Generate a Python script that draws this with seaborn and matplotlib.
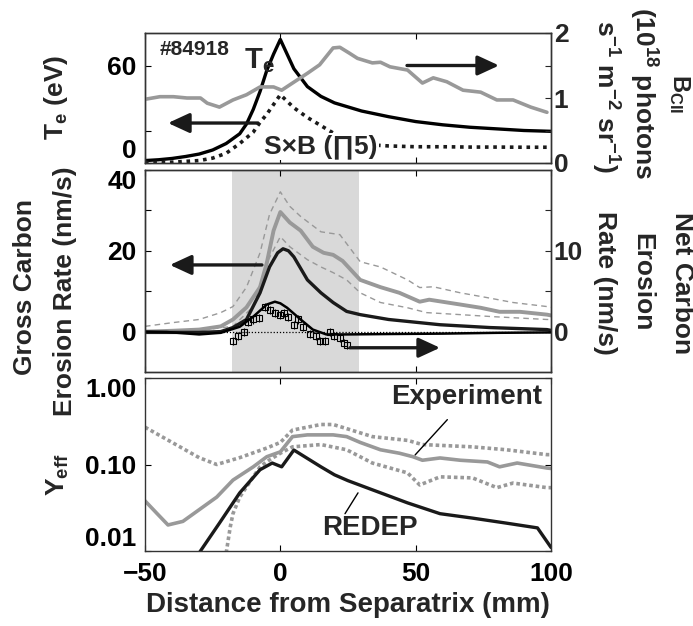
import matplotlib
matplotlib.use("Agg")
import matplotlib.pyplot as plt
import seaborn as sns
import pandas as pd

# ---------------- data ----------------
# top panel: electron temperature (left axis, eV)
te_x = [-50, -45, -40, -35, -30, -25, -20, -15, -12.5, -10, -7.5, -5, -2.5, 0,
        2.5, 5, 10, 15, 20, 25, 30, 40, 50, 60, 70, 80, 90, 100]
te_v = [1.5, 2, 2.8, 4, 5.5, 8, 12, 18, 24, 33, 44, 57, 67, 76,
        67, 58, 47, 41, 37, 34.5, 32, 28.5, 25.5, 23.5, 22, 21, 20, 19.5]

# top panel: S x B (left axis units)
sxb_x = [-50, -40, -30, -25, -20, -15, -10, -7.5, -5, -2.5, 0, 2.5, 5, 10, 15,
         20, 25, 30, 35, 40, 50, 60, 70, 80, 90, 100]
sxb_v = [0.3, 0.5, 1.5, 3, 6, 12, 19, 25, 30, 36, 42, 38, 34, 28, 23,
         18, 15, 12.5, 11, 10.5, 10, 10, 9.8, 9.8, 9.7, 9.7]

# top panel: B_CII brightness (right axis, 1e18 photons s-1 m-2 sr-1)
bcii_x = [-50, -44.5, -39.5, -34.5, -29.5, -27, -22.5, -17.5, -12.5, -7.5, -2.5, 0.5,
          4.5, 10, 14.5, 19.5, 22, 25.5, 28.5, 34, 37, 40.5, 47, 52.5, 56.5, 61.5,
          67.5, 74, 80, 86, 92.5, 98.5]
bcii_v = [0.98, 1.02, 1.02, 1.0, 1.0, 0.92, 0.86, 0.97, 1.05, 1.17, 1.17, 1.12,
          1.23, 1.38, 1.51, 1.77, 1.78, 1.69, 1.61, 1.54, 1.55, 1.48, 1.43, 1.23, 1.31, 1.25,
          1.12, 1.09, 0.97, 0.97, 0.86, 0.78]

# middle panel: gross erosion, experiment (left axis, nm/s)
gross_x = [-50, -40, -30, -22, -17.5, -12.5, -7.5, -5, -2.5, 0, 3.5, 7.5, 12, 16,
           19.5, 23, 29.5, 37, 44, 51.5, 55, 66.5, 74, 81, 88.5, 98.5, 100]
gross_v = [0, 0.2, 0.5, 1.3, 3, 6, 11, 17, 25, 29.6, 27, 25, 21, 19.5,
           19, 17.5, 12.8, 11, 9.6, 7.4, 7.9, 6.7, 5.9, 4.9, 4.9, 4.2, 4.0]
gross_hi_x = [-50, -40, -30, -22, -17.5, -12.5, -7.5, -4, 0, 3.5, 7.5, 15, 18, 22,
              29.5, 37, 47, 51.5, 56.5, 66.5, 76.5, 86, 98.5, 100]
gross_hi_v = [1.3, 2.2, 3, 4.7, 6.2, 11, 19.5, 29, 34.6, 31, 28.5, 24.7, 24.4, 24,
              17.3, 16, 12.8, 10.9, 11.1, 9.6, 8.4, 7.2, 6.2, 6.0]
gross_lo_x = [-50, -30, -17.5, -10, -5, 0, 3.5, 10, 15, 19.5, 24.5, 29.5, 37, 47,
              54, 66.5, 78.5, 98.5, 100]
gross_lo_v = [0, 0.3, 1.3, 6.2, 17, 23.5, 21, 17.8, 16, 14.6, 12.8, 9.6, 7.2, 5.9,
              4.7, 4.2, 3.7, 3.0, 3.0]

# middle panel: gross erosion, REDEP
redep_g_x = [-50, -30, -22, -17.5, -12.5, -7.5, -4, -1, 1, 3, 5, 10, 15, 19.5,
             24.5, 29.5, 40, 59, 77.5, 98.5, 100]
redep_g_v = [-0.2, -0.2, 0, 1, 3, 9.6, 16, 19.5, 20.5, 20, 18.5, 12.8, 9.6, 7.2,
             5, 4.2, 3, 1.7, 1, 0.5, 0.3]

# middle panel: net erosion (right axis, nm/s)
redep_n_x = [-50, -42, -30, -22, -15, -10, -5, -2, 0, 2.5, 7.5, 12, 17, 24.5,
             40, 60, 80, 100]
redep_n_v = [0, -0.05, -0.35, -0.15, 0.6, 1.85, 3.35, 3.7, 3.5, 2.95, 1.5, 0.25, -0.35, -0.35,
             -0.3, -0.25, -0.15, -0.1]
net_exp_x = [-17.5, -15.5, -13.5, -12, -10, -8, -5.5, -4, -2, 0, 1.5, 3, 5, 6.5,
             8.5, 11, 13, 14.5, 16.5, 18.5, 20, 22, 23.5, 24.5]
net_exp_v = [-1.2, -0.6, 0, 1.2, 1.5, 1.7, 3, 2.7, 2.3, 2.1, 2.3, 1.85, 0.85, 1.5,
             0.6, -0.35, -0.6, -1.2, -1.2, -0.1, -0.6, -0.75, -1.4, -1.6]

# bottom panel: effective yield
yexp_x = [-50, -45.5, -41.5, -36, -30, -23.5, -17.5, -10, -5, 0, 4.5, 10, 19.5, 24.5,
          29.5, 37, 44, 49, 52.5, 59, 66.5, 76.5, 81, 87.5, 98.5, 100]
yexp_v = [0.038, 0.027, 0.020, 0.022, 0.030, 0.042, 0.066, 0.094, 0.123, 0.14, 0.21, 0.22, 0.22, 0.21,
          0.18, 0.148, 0.135, 0.123, 0.112, 0.119, 0.112, 0.107, 0.094, 0.104, 0.091, 0.09]
yhi_x = [-50, -40, -30, -23.5, -15, -5, 0, 4.5, 15, 19.5, 24.5, 34, 47, 52.5, 71, 83.5, 98.5, 100]
yhi_v = [0.27, 0.18, 0.12, 0.10, 0.12, 0.155, 0.18, 0.25, 0.29, 0.29, 0.26, 0.21, 0.19, 0.17,
         0.16, 0.148, 0.13, 0.13]
ylo_x = [-20, -18.5, -17.5, -15, -12.5, -10, -7.5, -4, 0, 4.5, 15, 24.5, 34, 47, 51.5, 59,
         71, 80, 86, 98.5, 100]
ylo_v = [0.0095, 0.019, 0.027, 0.042, 0.055, 0.072, 0.094, 0.113, 0.135, 0.16, 0.17, 0.148,
         0.104, 0.08, 0.058, 0.072, 0.07, 0.054, 0.061, 0.054, 0.054]
yred_x = [-30, -22.5, -15, -7.5, -3, 0.5, 5, 15, 20, 25, 34, 47, 59, 71, 83.5, 95, 100]
yred_v = [0.0095, 0.021, 0.047, 0.087, 0.104, 0.094, 0.147, 0.094, 0.076, 0.065, 0.051, 0.036,
          0.027, 0.024, 0.021, 0.0185, 0.011]

x_ticks = [-50, 0, 50, 100]

# ---------------- style ----------------
sns.set_style("ticks")
plt.rcParams['font.family'] = ['Liberation Sans', 'DejaVu Sans']
plt.rcParams['font.weight'] = 'bold'
plt.rcParams['mathtext.fontset'] = 'custom'
plt.rcParams['mathtext.rm'] = 'Liberation Sans:bold'
plt.rcParams['mathtext.it'] = 'Liberation Sans:bold'
plt.rcParams['mathtext.bf'] = 'Liberation Sans:bold'
plt.rcParams['mathtext.default'] = 'rm'
plt.rcParams['axes.linewidth'] = 1.0
plt.rcParams['axes.edgecolor'] = '#333333'

FS = 19
GRAY = '#999999'
DARK = '#1a1a1a'

fig = plt.figure(figsize=(6.93, 6.26), dpi=100)
L, W = 145 / 693, 406 / 693
ax1 = fig.add_axes([L, 1 - 163 / 626, W, 130 / 626])
ax2 = fig.add_axes([L, 1 - 372 / 626, W, 202 / 626])
ax3 = fig.add_axes([L, 1 - 551 / 626, W, 173 / 626])


def style_axis(ax, labelbottom=False):
    ax.set_xlim(-50, 100)
    ax.set_xticks(x_ticks)
    ax.tick_params(direction='in', length=4, width=0.8, top=True, labelsize=FS,
                   labelbottom=labelbottom, pad=6, colors='black')
    ax.set_xlabel('')
    ax.set_ylabel('')


def arrow(ax, x0, x1, y):
    ax.annotate('', xy=(x1, y), xytext=(x0, y),
                arrowprops=dict(arrowstyle='-|>,head_length=0.65,head_width=0.3',
                                lw=2.4, color=DARK, mutation_scale=20,
                                shrinkA=0, shrinkB=0))


# ---------------- top panel ----------------
sns.lineplot(x=te_x, y=te_v, ax=ax1, color='black', lw=2.4)
sns.lineplot(x=sxb_x, y=sxb_v, ax=ax1, color=DARK, lw=2.6, linestyle=(0, (1, 1.3)))
ax1.set_ylim(0, 80)
ax1.set_yticks([0, 20, 40, 60])
ax1.set_yticklabels(['0', '', '', '60'])
ax1.get_yticklabels()[0].set_va('bottom')
style_axis(ax1)
ax1.text(-44.5, 70, '#84918', fontsize=15, va='center', ha='left')
ax1.text(-13.5, 63, 'T$_e$', fontsize=21, va='center', ha='left')
ax1.text(-6, 10, 'S×B (∏5)', fontsize=FS, va='center', ha='left', zorder=5,
         bbox=dict(boxstyle='square,pad=0.05', fc='white', ec='none'))
arrow(ax1, -8.3, -41.5, 24.6)

ax1r = ax1.twinx()
sns.lineplot(x=bcii_x, y=bcii_v, ax=ax1r, color=GRAY, lw=2.6)
ax1r.set_ylim(0, 2)
ax1r.set_yticks([0, 0.5, 1, 1.5, 2])
ax1r.set_yticklabels(['0', '', '1', '', '2'])
ax1r.tick_params(direction='in', length=4, width=0.8, labelsize=FS, pad=2)
ax1r.set_ylabel('')
arrow(ax1r, 46.8, 80.8, 1.5)

# ---------------- middle panel ----------------
ax2.axvspan(-18, 29, color='#d9d9d9', lw=0, zorder=0)
ax2.plot([-50, 100], [0, 0], color='black', lw=0.9, linestyle=(0, (1, 1.5)), zorder=1)
sns.lineplot(x=gross_hi_x, y=gross_hi_v, ax=ax2, color=GRAY, lw=1.0, linestyle=(0, (4, 3)))
sns.lineplot(x=gross_lo_x, y=gross_lo_v, ax=ax2, color=GRAY, lw=1.0, linestyle=(0, (4, 3)))
sns.lineplot(x=gross_x, y=gross_v, ax=ax2, color=GRAY, lw=2.8)
sns.lineplot(x=redep_g_x, y=redep_g_v, ax=ax2, color=DARK, lw=2.4)
ax2.set_ylim(-10, 40)
ax2.set_yticks([0, 10, 20, 30, 40])
ax2.set_yticklabels(['0', '', '20', '', '40'])
ax2.get_yticklabels()[4].set_va('top')
style_axis(ax2)
arrow(ax2, -6.8, -40.8, 16.5)

ax2r = ax2.twinx()
sns.lineplot(x=redep_n_x, y=redep_n_v, ax=ax2r, color='black', lw=1.8)
ax2r.errorbar(net_exp_x, net_exp_v, yerr=0.5, fmt='s', ms=4, mfc='none', mec='black',
              mew=0.8, ecolor='black', elinewidth=0.8, capsize=0)
ax2r.set_ylim(-5, 20)
ax2r.set_yticks([0, 5, 10, 15])
ax2r.set_yticklabels(['0', '', '10', ''])
ax2r.tick_params(direction='in', length=4, width=0.8, labelsize=FS, pad=2)
ax2r.set_ylabel('')
arrow(ax2r, 25.7, 59, -2)

# ---------------- bottom panel ----------------
sns.lineplot(x=yhi_x, y=yhi_v, ax=ax3, color=GRAY, lw=2.6, linestyle=(0, (1, 0.8)))
sns.lineplot(x=ylo_x, y=ylo_v, ax=ax3, color=GRAY, lw=2.6, linestyle=(0, (1, 0.8)))
sns.lineplot(x=yexp_x, y=yexp_v, ax=ax3, color=GRAY, lw=2.6)
sns.lineplot(x=yred_x, y=yred_v, ax=ax3, color=DARK, lw=2.4)
ax3.set_yscale('log')
ax3.set_ylim(0.01, 1)
ax3.set_yticks([0.01, 0.1, 1])
ax3.set_yticklabels(['0.01', '0.10', '1.00'])
ax3.get_yticklabels()[0].set_va('bottom')
ax3.get_yticklabels()[2].set_va('top')
ax3.minorticks_off()
style_axis(ax3, labelbottom=True)
ax3.tick_params(axis='y', right=True)
ax3.tick_params(axis='x', pad=8)
ax3.text(69, 0.6, 'Experiment', fontsize=20, ha='center', va='center')
ax3.plot([61.7, 49.8], [0.33, 0.129], color='black', lw=1.0)
ax3.text(33, 0.0185, 'REDEP', fontsize=20, ha='center', va='center')
ax3.plot([28.7, 23.9], [0.047, 0.027], color='black', lw=1.0)

# ---------------- axis labels ----------------
fig.text(56 / 693, 1 - 97 / 626, 'T$_e$ (eV)', rotation=90, fontsize=FS,
         ha='center', va='center')
fig.text(25 / 693, 1 - 287 / 626, 'Gross Carbon', rotation=90, fontsize=FS,
         ha='center', va='center')
fig.text(65 / 693, 1 - 291 / 626, 'Erosion Rate (nm/s)', rotation=90, fontsize=FS,
         ha='center', va='center')
fig.text(58 / 693, 1 - 475 / 626, 'Y$_{eff}$', rotation=90, fontsize=FS,
         ha='center', va='center')

fig.text(679 / 693, 1 - 94 / 626, 'B$_{CII}$', rotation=-90, fontsize=17,
         ha='center', va='center')
fig.text(643 / 693, 1 - 93 / 626, '(10$^{18}$ photons', rotation=-90, fontsize=FS,
         ha='center', va='center')
fig.text(605 / 693, 1 - 97 / 626, 's$^{-1}$ m$^{-2}$ sr$^{-1}$)', rotation=-90,
         fontsize=FS, ha='center', va='center')
fig.text(682 / 693, 1 - 283 / 626, 'Net Carbon', rotation=-90, fontsize=FS,
         ha='center', va='center')
fig.text(642 / 693, 1 - 282 / 626, 'Erosion', rotation=-90, fontsize=FS,
         ha='center', va='center')
fig.text(605 / 693, 1 - 283 / 626, 'Rate (nm/s)', rotation=-90, fontsize=FS,
         ha='center', va='center')

fig.text(348 / 693, 1 - 605 / 626, 'Distance from Separatrix (mm)', fontsize=20,
         ha='center', va='center')

fig.savefig('out.png', dpi=100)
